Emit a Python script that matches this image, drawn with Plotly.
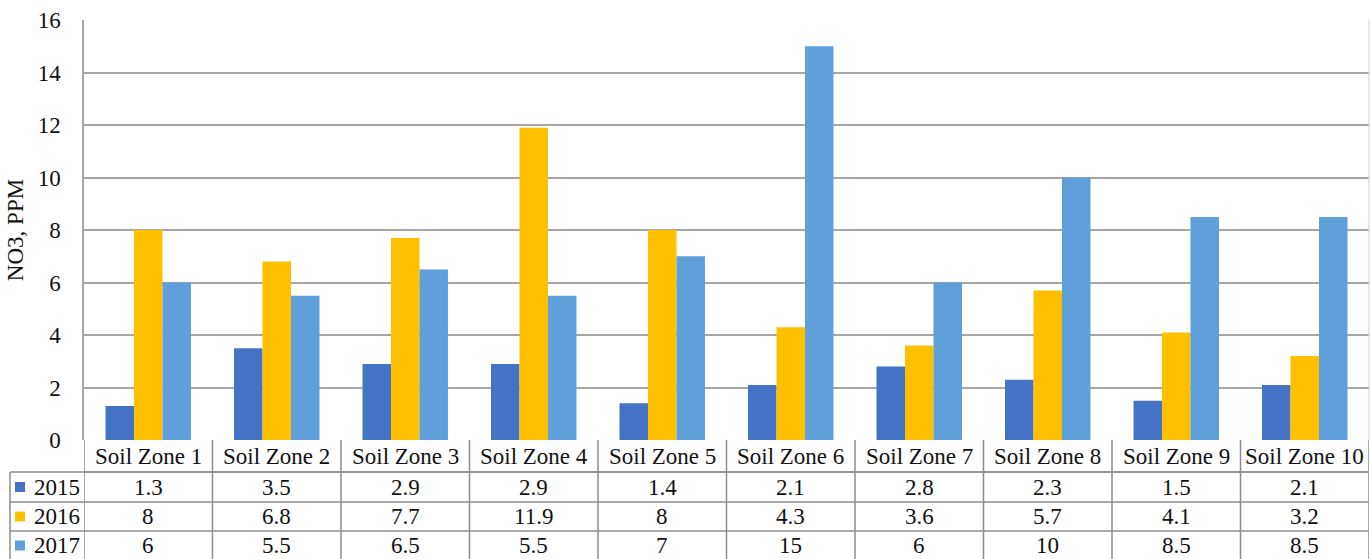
import plotly.graph_objects as go

zones = [f"Soil Zone {i}" for i in range(1, 11)]
years = ["2015", "2016", "2017"]
no3_2015 = [1.3, 3.5, 2.9, 2.9, 1.4, 2.1, 2.8, 2.3, 1.5, 2.1]
no3_2016 = [8, 6.8, 7.7, 11.9, 8, 4.3, 3.6, 5.7, 4.1, 3.2]
no3_2017 = [6, 5.5, 6.5, 5.5, 7, 15, 6, 10, 8.5, 8.5]
series = [no3_2015, no3_2016, no3_2017]
colors = ["#4472C4", "#FFC000", "#5FA0DA"]

W, H = 1370, 559
L, R, T, B = 84, 1, 20, 119
plot_w = W - L - R
plot_h = H - T - B
FONT = "'Liberation Serif', 'Times New Roman', 'DejaVu Serif', serif"
TXT = "#111111"
LINE = "#8c8c8c"
FS = 23

fig = go.Figure()
for name, vals, col in zip(years, series, colors):
    fig.add_trace(go.Bar(x=list(range(len(zones))), y=vals, name=name,
                         marker=dict(color=col, line=dict(width=0))))


def py(px):
    """pixel row (from top of page) -> paper y"""
    return (H - B - px) / plot_h


def px_x(px):
    """pixel column -> paper x"""
    return (px - L) / plot_w


shapes = []
annotations = []
row_edges = [440, 472, 502, 531, 560]
n = len(zones)

# horizontal table rules
shapes.append(dict(type="line", xref="x", yref="paper", x0=-0.5, x1=n - 0.5,
                   y0=py(row_edges[1]), y1=py(row_edges[1]), line=dict(color=LINE, width=1.5)))
for r in row_edges[1:4]:
    shapes.append(dict(type="line", xref="paper", yref="paper", x0=px_x(10), x1=1,
                       y0=py(r), y1=py(r), line=dict(color=LINE, width=1.5)))
# vertical table rules
for i in range(n + 1):
    shapes.append(dict(type="line", xref="x", yref="paper", x0=i - 0.5, x1=i - 0.5,
                       y0=py(row_edges[0]), y1=py(row_edges[-1]), line=dict(color=LINE, width=1.5)))
shapes.append(dict(type="line", xref="paper", yref="paper", x0=px_x(10), x1=px_x(10),
                   y0=py(row_edges[1]), y1=py(row_edges[-1]), line=dict(color=LINE, width=1.5)))

txt_font = dict(family=FONT, size=FS, color=TXT)

# header row
for i, z in enumerate(zones):
    annotations.append(dict(x=i, y=py((row_edges[0] + row_edges[1]) / 2), xref="x", yref="paper",
                            xanchor="center", yanchor="middle",
                            text=z, showarrow=False, font=txt_font))

# data rows with colour keys
for r, (name, vals, col) in enumerate(zip(years, series, colors)):
    mid = (row_edges[r + 1] + row_edges[r + 2]) / 2
    yc = py(mid)
    shapes.append(dict(type="rect", xref="paper", yref="paper", x0=px_x(15), x1=px_x(25),
                       y0=py(mid + 5), y1=py(mid - 5), fillcolor=col, line=dict(width=0)))
    annotations.append(dict(x=px_x(82), y=yc, xref="paper", yref="paper",
                            xanchor="right", yanchor="middle",
                            text=name, showarrow=False, font=txt_font))
    for i, v in enumerate(vals):
        annotations.append(dict(x=i, y=yc, xref="x", yref="paper", text=f"{v:g}",
                                xanchor="center", yanchor="middle",
                                showarrow=False, font=txt_font))

fig.update_layout(
    width=W, height=H,
    margin=dict(l=L, r=R, t=T, b=B),
    paper_bgcolor="white", plot_bgcolor="white",
    font=dict(family=FONT, color=TXT),
    barmode="group", bargap=0.335, bargroupgap=0,
    showlegend=False,
    shapes=shapes, annotations=annotations,
    xaxis=dict(range=[-0.5, n - 0.5], showticklabels=False, showgrid=False,
               zeroline=False, showline=False, fixedrange=True),
    yaxis=dict(range=[0, 16], dtick=2, showgrid=True, gridcolor="#a6a6a6", gridwidth=1.5,
               zeroline=False, showline=True, linecolor="#a6a6a6", linewidth=1.5,
               ticks="", ticklabelstandoff=17,
               tickfont=dict(family=FONT, size=FS, color=TXT),
               title=dict(text="NO3, PPM", font=dict(family=FONT, size=23, color=TXT), standoff=8)),
)
# right border of plot area
fig.add_shape(type="line", xref="paper", yref="paper", x0=1, x1=1, y0=0, y1=1,
              line=dict(color="#d0d0d0", width=1))

fig.write_html("out.html")
